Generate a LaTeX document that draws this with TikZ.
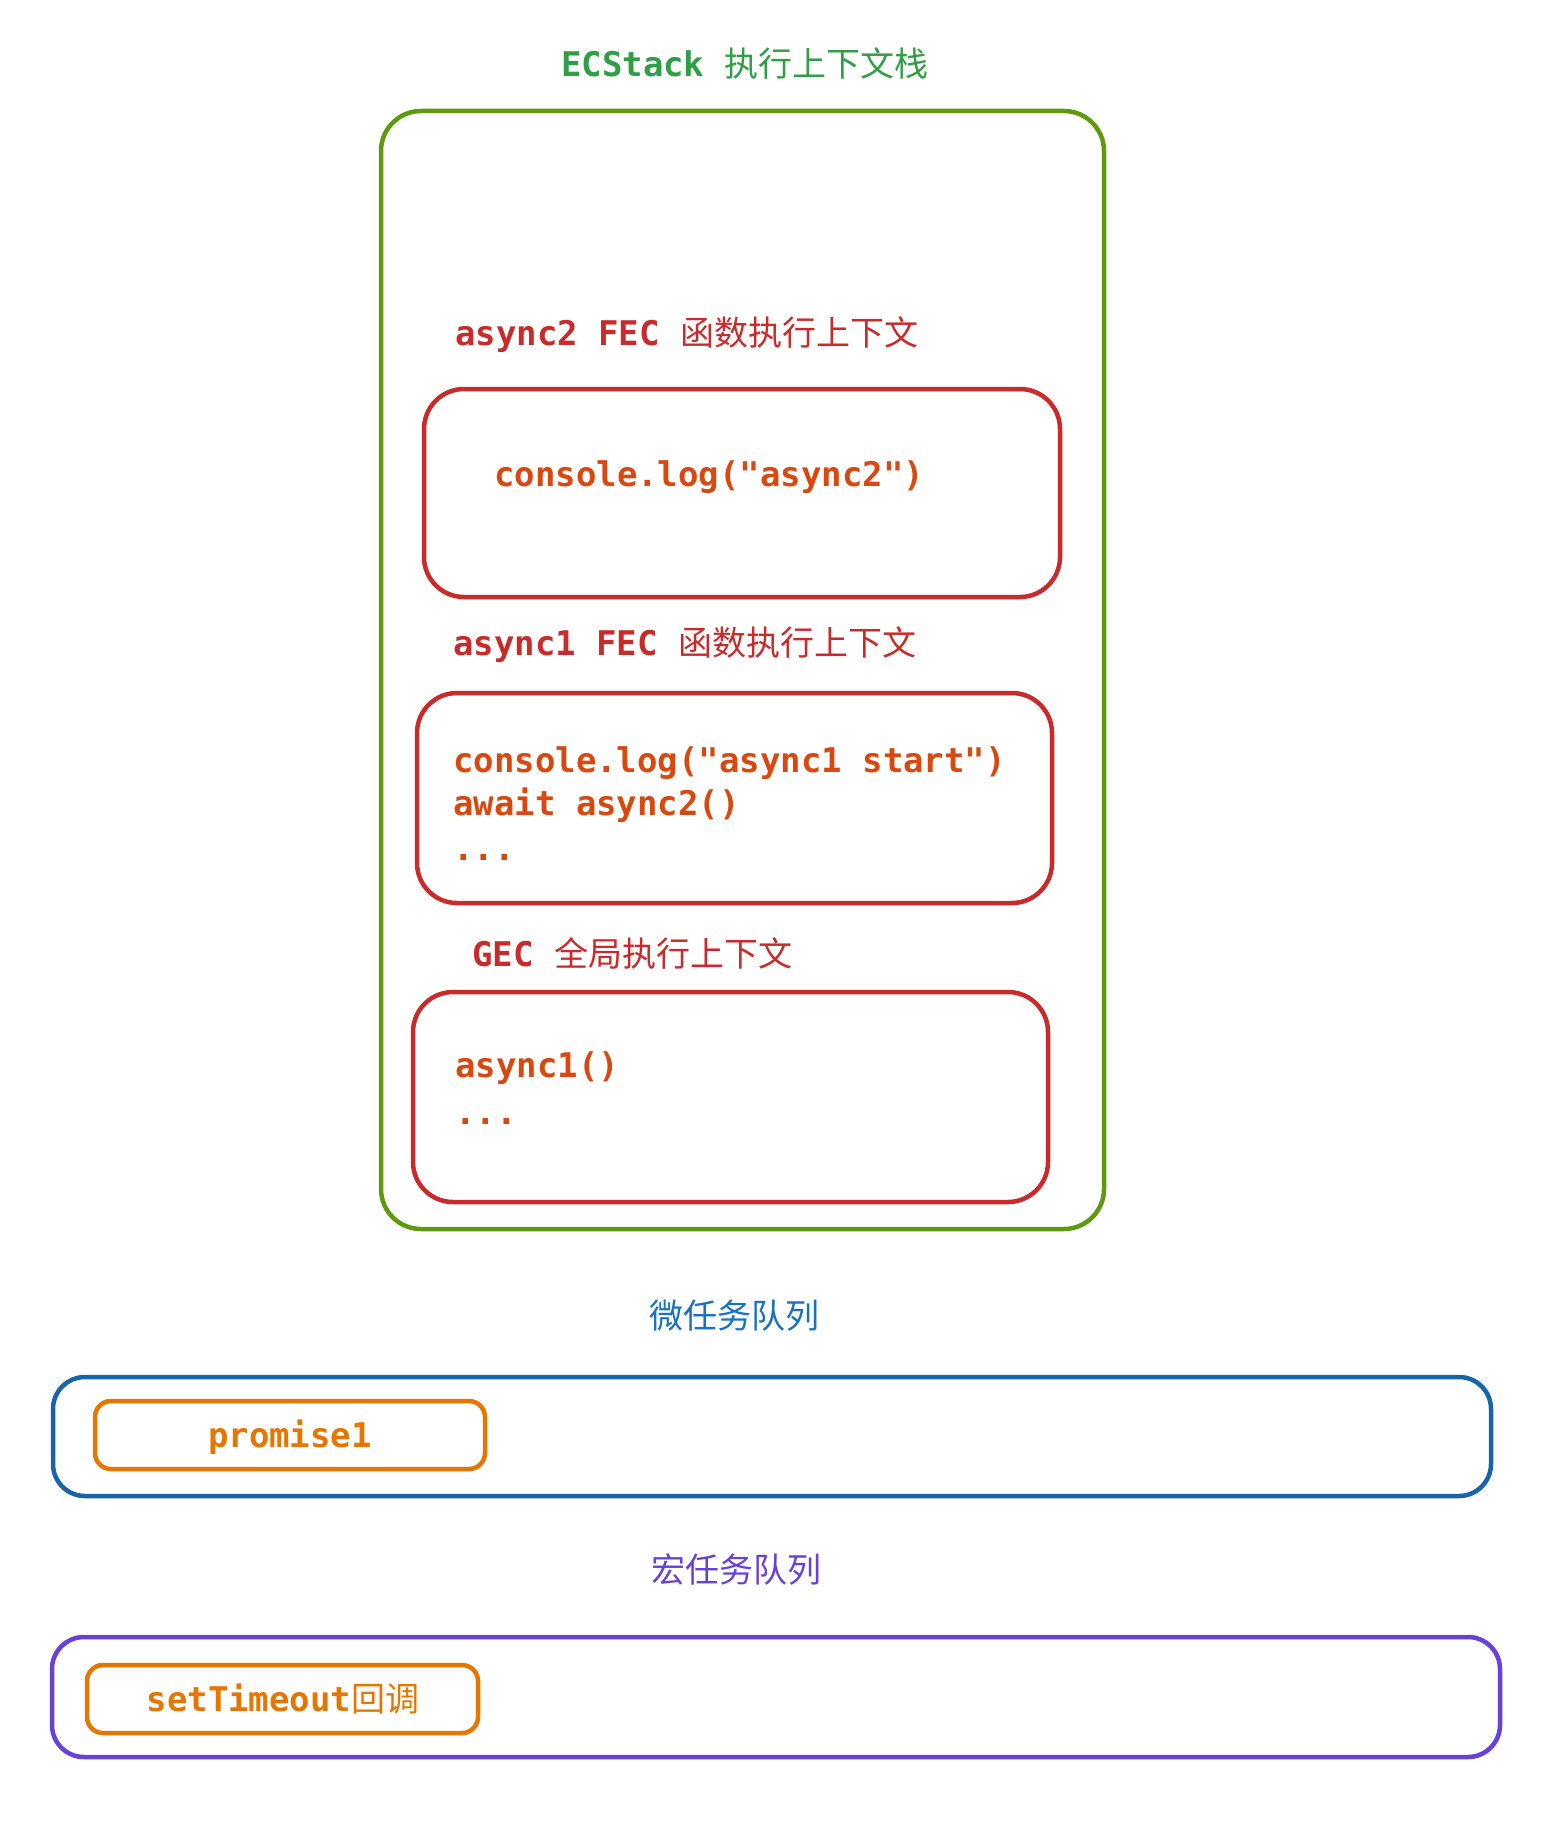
\documentclass[tikz,border=0pt]{standalone}
\usepackage{fontspec}
\setmonofont{DejaVu Sans Mono}
\newfontfamily\cjk{Noto Sans CJK SC}
\definecolor{stackgreen}{HTML}{5E9A0E}
\definecolor{titlegreen}{HTML}{2F9E44}
\definecolor{fecred}{HTML}{C92A2A}
\definecolor{codeorange}{HTML}{D9480F}
\definecolor{microblue}{HTML}{1864AB}
\definecolor{microtext}{HTML}{1971C2}
\definecolor{macroviolet}{HTML}{6741D9}
\definecolor{taskorange}{HTML}{E77600}
\newcommand{\txtfont}{\fontsize{34}{43}\selectfont\ttfamily\bfseries}
\newcommand{\codefont}{\fontsize{34}{43}\selectfont\ttfamily\bfseries}
\newcommand{\zh}[1]{{\cjk\mdseries #1}}

\begin{document}
\begin{tikzpicture}[x=1pt,y=-1pt]
		\tikzstyle{every node}+=[inner sep=0pt]
		\tikzstyle{frame}=[line width=4.5pt, rounded corners=40pt]
		\tikzstyle{taskbox}=[line width=4.5pt, rounded corners=16pt, draw=taskorange]
		\tikzstyle{title}=[font=\txtfont]
		\tikzstyle{code}=[anchor=west, font=\codefont, text=codeorange, align=left]
		\useasboundingbox (0,0) rectangle (1566,1830);
		% execution context stack
		\node [title, text=titlegreen] (ecstacktitle) at (745,64) {ECStack \zh{执行上下文栈}};
		\draw [frame, draw=stackgreen] (381,111) rectangle (1104,1229);
		% async2 function context
		\node [title, text=fecred, anchor=west] (asynctwotitle) at (455,335) {async2 FEC \zh{函数执行上下文}};
		\draw [frame, draw=fecred] (424,389) rectangle (1060,597);
		\node [code] (asynctwocode) at (494,477) {console.log("async2")};
		% async1 function context
		\node [title, text=fecred, anchor=west] (asynconetitle) at (453,645) {async1 FEC \zh{函数执行上下文}};
		\draw [frame, draw=fecred] (417,693) rectangle (1052,903);
		\node [code, anchor=north west] (asynconecode) at (453,746) {console.log("async1 start")\\await async2()\\[2pt]...};
		% global context
		\node [title, text=fecred, anchor=west] (gectitle) at (472,953) {GEC \zh{全局执行上下文}};
		\draw [frame, draw=fecred] (413,992) rectangle (1048,1202);
		\node [code, anchor=north west] (geccode) at (455,1051) {async1()\\[4pt]...};
		% micro task queue
		\node [font=\fontsize{34}{43}\selectfont\cjk, text=microtext] (microtitle) at (734,1316) {微任务队列};
		\draw [frame, rounded corners=32pt, draw=microblue] (53,1377) rectangle (1491,1496);
		\draw [taskbox] (95,1401) rectangle (485,1469);
		\node [text=taskorange, font=\codefont] (promiseone) at (290,1437) {promise1};
		% macro task queue
		\node [font=\fontsize{34}{43}\selectfont\cjk, text=macroviolet] (macrotitle) at (736,1570) {宏任务队列};
		\draw [frame, rounded corners=32pt, draw=macroviolet] (52,1637) rectangle (1500,1757);
		\draw [taskbox] (87,1665) rectangle (478,1733);
		\node [text=taskorange, font=\codefont] (timeoutcb) at (283,1699) {setTimeout\zh{回调}};
	\end{tikzpicture}
\end{document}
